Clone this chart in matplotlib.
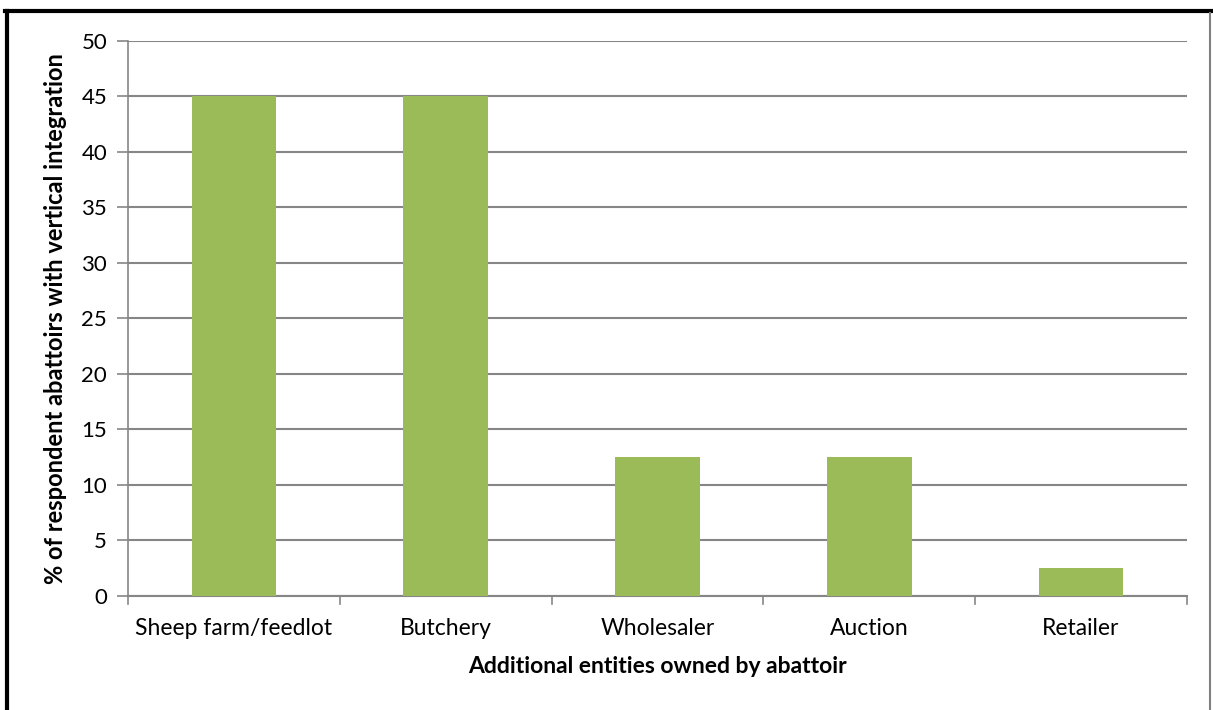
import matplotlib.pyplot as plt
from matplotlib.lines import Line2D

categories = ["Sheep farm/feedlot", "Butchery", "Wholesaler", "Auction", "Retailer"]
values = [45, 45, 12.5, 12.5, 2.5]

plt.rcParams["font.family"] = ["Lato", "DejaVu Sans"]

fig = plt.figure(figsize=(12.13, 7.10), dpi=100)
ax = fig.add_axes([0.1055, 0.1606, 0.873, 0.7817])

x = range(len(categories))
ax.bar(x, values, width=0.4, color="#9BBB59", zorder=3)

ax.set_xlim(-0.5, len(categories) - 0.5)
ax.set_ylim(0, 50)
ax.set_yticks(range(0, 51, 5))
ax.set_xticks(list(x))
ax.set_xticklabels(categories)
ax.tick_params(axis="x", length=0, labelsize=16.5, pad=16)
ax.tick_params(axis="y", length=8, width=1.2, color="#868686", labelsize=16, pad=7)

# category separators below the x axis
for b in [i - 0.5 for i in range(len(categories) + 1)]:
    ax.plot([b, b], [0, -0.75], color="#868686", lw=1.2, clip_on=False, zorder=4)

ax.grid(axis="y", color="#868686", lw=1.5, zorder=0)
for side in ["top", "right"]:
    ax.spines[side].set_visible(False)
ax.spines["left"].set_color("#868686")
ax.spines["bottom"].set_color("#868686")
ax.spines["left"].set_linewidth(1.2)
ax.spines["bottom"].set_linewidth(1.5)

ax.set_xlabel("Additional entities owned by abattoir", fontsize=16.5, fontweight="bold", labelpad=12)
ax.set_ylabel("% of respondent abattoirs with vertical integration", fontsize=17,
              fontweight="bold", labelpad=10)

# outer chart frame
fig.add_artist(Line2D([0.004, 0.998], [0.985, 0.985], color="black", lw=3, transform=fig.transFigure))
fig.add_artist(Line2D([0.0055, 0.0055], [0, 0.985], color="black", lw=3, transform=fig.transFigure))
fig.add_artist(Line2D([0.9975, 0.9975], [0, 0.982], color="#808080", lw=1.5, transform=fig.transFigure))

fig.savefig("out.png", dpi=100, facecolor="white")
